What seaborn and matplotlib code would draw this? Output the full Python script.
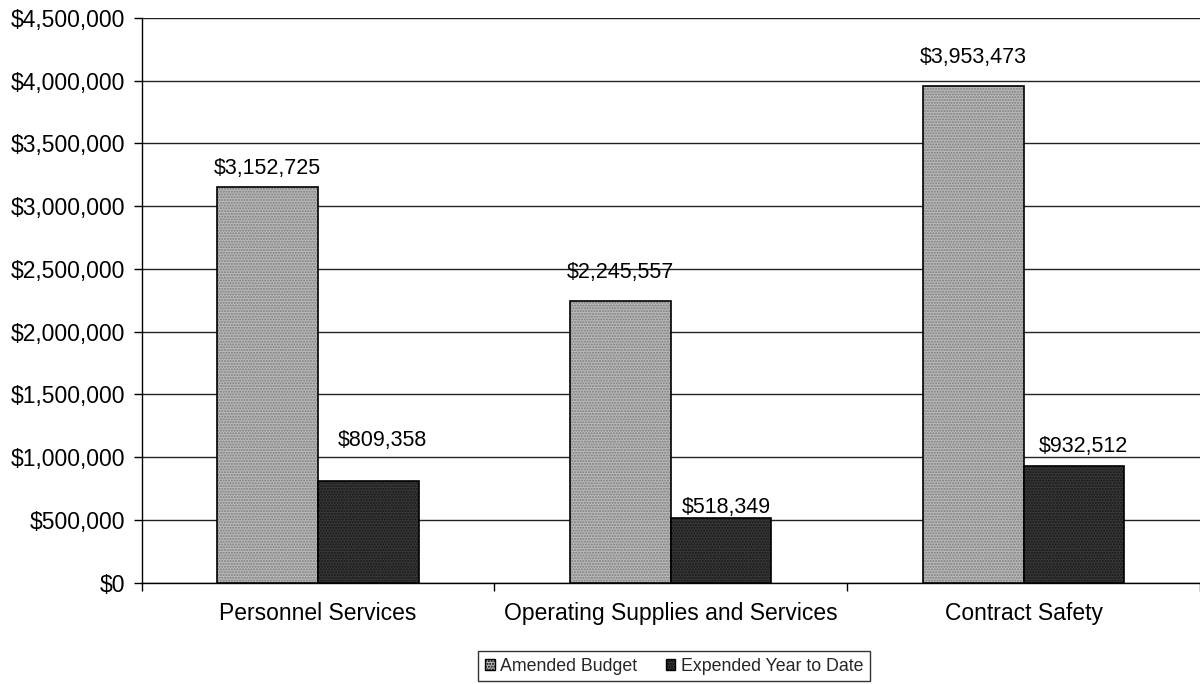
import matplotlib
matplotlib.use("Agg")
import matplotlib.pyplot as plt
import seaborn as sns
import pandas as pd
from matplotlib.ticker import FuncFormatter
from matplotlib.patches import Patch

categories = ["Personnel Services", "Operating Supplies and Services", "Contract Safety"]
amended_budget = [3152725, 2245557, 3953473]
expended_ytd = [809358, 518349, 932512]
series_names = ["Amended Budget", "Expended Year to Date"]

# label offsets (points) above each bar top, per series
label_pad = [[6, 13, 13], [22, 0, 6]]
label_dx = [[0, 0, 0], [10, 4, 7]]

df = pd.DataFrame({
    "category": categories * 2,
    "series": [series_names[0]] * 3 + [series_names[1]] * 3,
    "value": amended_budget + expended_ytd,
})

sns.set_theme(style="white")
plt.rcParams["font.family"] = ["Liberation Sans", "DejaVu Sans"]

fig = plt.figure(figsize=(12, 6.84), dpi=100)
ax = fig.add_axes([0.118, 0.148, 0.882, 0.826])

palette = {series_names[0]: "#b9b9b9", series_names[1]: "#383838"}
hatch_colors = ["#7c7c7c", "#161616"]
sns.barplot(data=df, x="category", y="value", hue="series", palette=palette,
            width=0.57, edgecolor="black", linewidth=1.2, ax=ax, legend=False,
            zorder=3)

for i, cont in enumerate(ax.containers):
    for j, bar in enumerate(cont):
        bar.set_hatch("......")
        bar._hatch_color = matplotlib.colors.to_rgba(hatch_colors[i])
        v = cont.datavalues[j]
        ax.annotate(f"${v:,.0f}",
                    xy=(bar.get_x() + bar.get_width() / 2, bar.get_height()),
                    xytext=(label_dx[i][j], label_pad[i][j]),
                    textcoords="offset points", ha="center", va="bottom",
                    fontsize=15.5, color="black", zorder=5)

ax.set_ylim(0, 4500000)
ax.set_yticks(range(0, 4500001, 500000))
ax.yaxis.set_major_formatter(FuncFormatter(lambda v, p: f"${v:,.0f}"))
ax.set_xlim(-0.5, 2.5)
ax.grid(axis="y", color="#222222", linewidth=1.0, zorder=0)
ax.set_axisbelow(True)
ax.set_xlabel("")
ax.set_ylabel("")

for side in ["top", "right"]:
    ax.spines[side].set_visible(False)
for side in ["left", "bottom"]:
    ax.spines[side].set_color("black")
    ax.spines[side].set_linewidth(1.0)

ax.tick_params(axis="y", left=True, length=6, width=1, color="black",
               labelsize=16.5, pad=6, labelcolor="black")
ax.tick_params(axis="x", bottom=False, labelsize=16.5, pad=8, labelcolor="black")
ax.set_xticks([-0.5, 0.5, 1.5, 2.5], minor=True)
ax.tick_params(axis="x", which="minor", bottom=True, length=6, width=1, color="black")

handles = [Patch(facecolor=palette[s], edgecolor="black", hatch="......") for s in series_names]
leg = fig.legend(handles, series_names, loc="lower center", bbox_to_anchor=(0.5617, 0.0),
                 ncol=2, frameon=True, fontsize=12.8, handlelength=0.55, handleheight=0.55,
                 handletextpad=0.3, columnspacing=1.6, borderpad=0.38,
                 borderaxespad=0.15, fancybox=False)
leg.get_frame().set_edgecolor("black")
leg.get_frame().set_linewidth(1.0)

fig.savefig("out.png", dpi=100)
